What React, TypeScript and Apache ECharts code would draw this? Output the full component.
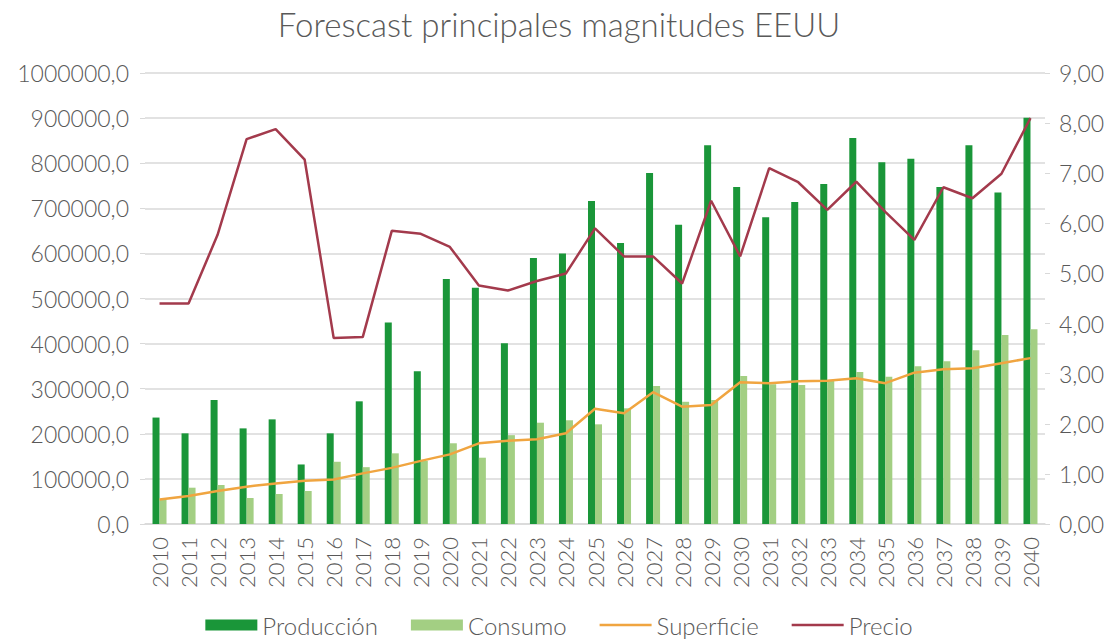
import React, { useEffect, useRef } from "react";
import * as echarts from "echarts";

const years = ["2010","2011","2012","2013","2014","2015","2016","2017","2018","2019","2020","2021","2022","2023","2024","2025","2026","2027","2028","2029","2030","2031","2032","2033","2034","2035","2036","2037","2038","2039","2040"];
const produccion = [236000,201000,275000,212000,232000,132000,201000,272000,447000,338500,543000,524000,400600,589700,600000,716000,623000,778000,663600,840000,747000,680000,714000,754000,856000,802000,810000,747000,840000,735000,901000];
const consumo = [54700,80500,86500,57600,66500,73200,138000,126000,156700,140000,179000,147000,197000,224600,230000,221000,256500,306000,271000,275000,328000,310000,308000,318000,337000,326600,350000,361000,385000,419000,431600];
const superficie = [0.49,0.56,0.66,0.745,0.81,0.865,0.89,1.01,1.12,1.26,1.39,1.61,1.66,1.69,1.81,2.30,2.21,2.63,2.34,2.375,2.83,2.81,2.85,2.86,2.91,2.81,3.02,3.09,3.11,3.21,3.31];
const precio = [4.40,4.40,5.77,7.68,7.88,7.27,3.71,3.73,5.85,5.79,5.53,4.76,4.66,4.85,5.00,5.90,5.34,5.34,4.80,6.45,5.34,7.10,6.82,6.27,6.83,6.23,5.67,6.72,6.50,6.99,8.10];

const FONT = "Lato";
const GREY = "#595959";
const LINE_ICON = "path://M0,0 L52,0 L52,2.5 L0,2.5 Z";

export default function App() {
  const ref = useRef<HTMLDivElement>(null);
  useEffect(() => {
    const chart = echarts.init(ref.current!, null, { renderer: "svg" });
    chart.setOption({
      animation: false,
      backgroundColor: "#ffffff",
      textStyle: { fontFamily: FONT },
      title: {
        text: "Forescast principales magnitudes EEUU",
        left: "center",
        top: 2,
        textStyle: { fontFamily: FONT, fontWeight: 300, fontSize: 33, color: GREY },
      },
      legend: {
        bottom: 0,
        left: "center",
        itemGap: 33,
        itemWidth: 52,
        itemHeight: 11,
        textStyle: { fontFamily: FONT, fontWeight: 300, fontSize: 24, color: GREY },
        data: [
          { name: "Producción", icon: "rect" },
          { name: "Consumo", icon: "rect" },
          { name: "Superficie", icon: LINE_ICON },
          { name: "Precio", icon: LINE_ICON },
        ],
      },
      grid: { left: 145, right: 73, top: 73, bottom: 118, containLabel: false },
      xAxis: {
        type: "category",
        data: years,
        axisLine: { lineStyle: { color: "#d9d9d9", width: 1.5 } },
        axisTick: { show: false },
        axisLabel: { interval: 0, rotate: 90, fontSize: 22, fontWeight: 300, color: GREY, margin: 13, fontFamily: FONT },
      },
      yAxis: [
        {
          type: "value",
          min: 0,
          max: 1000000,
          interval: 100000,
          axisLine: { show: false },
          axisTick: { show: true, length: 5, lineStyle: { color: "#d9d9d9" } },
          splitLine: { lineStyle: { color: "#d9d9d9", width: 1.5 } },
          axisLabel: {
            fontSize: 23, fontWeight: 300, color: GREY, margin: 16, fontFamily: FONT,
            formatter: (v: number) => v.toFixed(1).replace(".", ","),
          },
        },
        {
          type: "value",
          min: 0,
          max: 9,
          interval: 1,
          axisLine: { show: false },
          axisTick: { show: true, length: 5, lineStyle: { color: "#d9d9d9" } },
          splitLine: { show: false },
          axisLabel: {
            fontSize: 23, fontWeight: 300, color: GREY, margin: 14, fontFamily: FONT,
            formatter: (v: number) => v.toFixed(2).replace(".", ","),
          },
        },
      ],
      series: [
        {
          name: "Producción", type: "bar", data: produccion, yAxisIndex: 0,
          barWidth: 7, barGap: "0%", itemStyle: { color: "#1a9639" },
        },
        {
          name: "Consumo", type: "bar", data: consumo, yAxisIndex: 0,
          barWidth: 7, barGap: "0%", itemStyle: { color: "#a3cf83" },
        },
        {
          name: "Superficie", type: "line", data: superficie, yAxisIndex: 1,
          symbol: "none", lineStyle: { color: "#f0a540", width: 2.5 }, itemStyle: { color: "#f0a540" },
        },
        {
          name: "Precio", type: "line", data: precio, yAxisIndex: 1,
          symbol: "none", lineStyle: { color: "#a33a4c", width: 2.5 }, itemStyle: { color: "#a33a4c" },
        },
      ],
    });
    return () => chart.dispose();
  }, []);
  return <div ref={ref} style={{ width: 1118, height: 642, position: "absolute", left: 0, top: 0 }} />;
}
